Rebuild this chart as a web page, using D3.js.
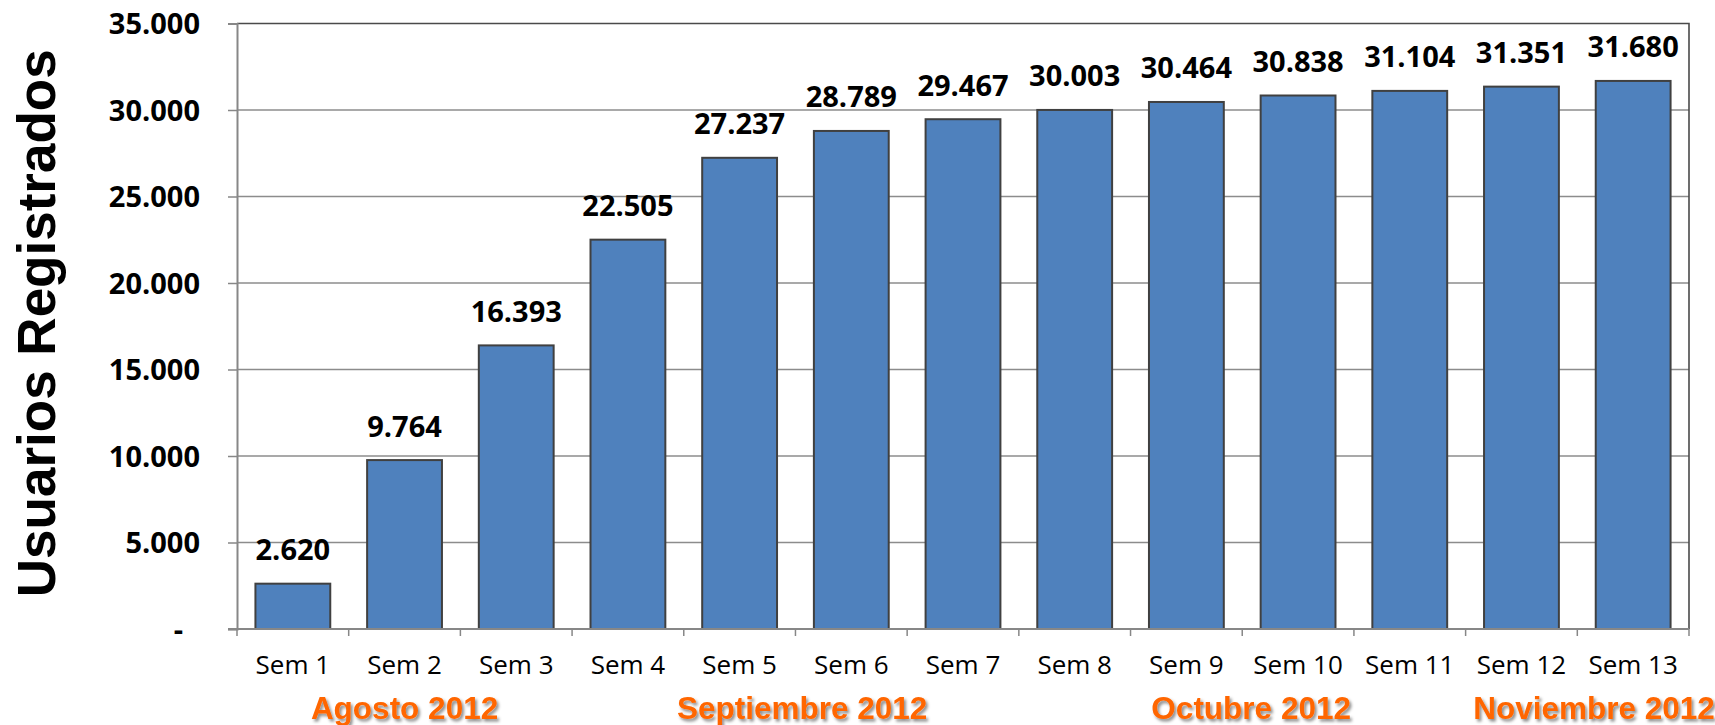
<!DOCTYPE html>
<html>
<head>
<meta charset="utf-8">
<script src="https://cdn.jsdelivr.net/npm/d3@7"></script>
<style>
  html, body { margin: 0; padding: 0; background: #fff; }
  svg { display: block; }
</style>
</head>
<body>
<svg id="chart" width="1715" height="725"></svg>
<script>
// Weekly registered users, Aug–Nov 2012
const weeks = ["Sem 1","Sem 2","Sem 3","Sem 4","Sem 5","Sem 6","Sem 7","Sem 8","Sem 9","Sem 10","Sem 11","Sem 12","Sem 13"];
const users = [2620, 9764, 16393, 22505, 27237, 28789, 29467, 30003, 30464, 30838, 31104, 31351, 31680];
const yTicks = [0, 5000, 10000, 15000, 20000, 25000, 30000, 35000];
// Month captions under the weeks; "at" is the week position (1-based) the caption is centred on
const months = ["Agosto 2012", "Septiembre 2012", "Octubre 2012", "Noviembre 2012"];
const monthAt = [2, 5.56, 9.58, 12.65];

const svg = d3.select("#chart");
const W = 1715, H = 725;
const m = { left: 237, right: 1689, top: 23.5, bottom: 629 };

const x = d3.scaleBand().domain(weeks).range([m.left, m.right])
  .paddingInner(0.33).paddingOuter(0.165);
const xEdge = d3.scaleLinear().domain([0, weeks.length]).range([m.left, m.right]);
const y = d3.scaleLinear().domain([0, 35000]).range([m.bottom, m.top]);

const fmt = v => v === 0 ? "-" : d3.format(",")(v).replace(/,/g, ".");

// shadow used by the month captions
const defs = svg.append("defs");
const f = defs.append("filter").attr("id", "shadow")
  .attr("x", "-10%").attr("y", "-30%").attr("width", "120%").attr("height", "160%");
f.append("feDropShadow").attr("dx", 2).attr("dy", 2.5).attr("stdDeviation", 1.6)
  .attr("flood-color", "#000").attr("flood-opacity", 0.45);

// horizontal gridlines
svg.append("g").selectAll("line").data(yTicks.filter(t => t > 0 && t < 35000)).join("line")
  .attr("x1", m.left).attr("x2", m.right)
  .attr("y1", d => y(d)).attr("y2", d => y(d))
  .attr("stroke", "#8c8c8c").attr("stroke-width", 1.5);

// plot area border (top and right)
svg.append("path")
  .attr("d", `M${m.left},${y(35000)}H${m.right}V${m.bottom}`)
  .attr("fill", "none").attr("stroke", "#4a4a4a").attr("stroke-width", 1.6);

// bars
svg.append("g").selectAll("rect").data(users).join("rect")
  .attr("x", (d, i) => x(weeks[i]))
  .attr("width", x.bandwidth())
  .attr("y", d => y(d))
  .attr("height", d => y(0) - y(d))
  .attr("fill", "#4F81BD")
  .attr("stroke", "#404040").attr("stroke-width", 2);

// value labels
svg.append("g").selectAll("text").data(users).join("text")
  .attr("x", (d, i) => x(weeks[i]) + x.bandwidth() / 2)
  .attr("y", d => y(d) - 23.5)
  .attr("text-anchor", "middle")
  .attr("font-family", "'Open Sans', sans-serif")
  .attr("font-weight", "bold")
  .attr("font-size", 29)
  .attr("fill", "#000")
  .text(fmt);

// y axis
const yAxis = svg.append("g").attr("transform", `translate(${m.left},0)`)
  .call(d3.axisLeft(y).tickValues(yTicks).tickFormat(fmt).tickSize(9).tickPadding(28));
yAxis.select(".domain").attr("stroke", "#878787").attr("stroke-width", 2);
yAxis.selectAll(".tick line").attr("stroke", "#878787").attr("stroke-width", 1.5);
yAxis.selectAll(".tick text")
  .attr("font-family", "'Open Sans', sans-serif")
  .attr("font-weight", "bold")
  .attr("font-size", 29)
  .attr("fill", "#000")
  .attr("dy", "0.36em")
  .attr("dx", d => d === 0 ? -17 : 0);

// x axis: line, boundary ticks and week labels
svg.append("line")
  .attr("x1", m.left - 9).attr("x2", m.right)
  .attr("y1", m.bottom).attr("y2", m.bottom)
  .attr("stroke", "#878787").attr("stroke-width", 2);
svg.append("g").selectAll("line").data(d3.range(weeks.length + 1)).join("line")
  .attr("x1", d => xEdge(d)).attr("x2", d => xEdge(d))
  .attr("y1", m.bottom).attr("y2", m.bottom + 7)
  .attr("stroke", "#878787").attr("stroke-width", 1.5);
svg.append("g").selectAll("text").data(weeks).join("text")
  .attr("x", d => x(d) + x.bandwidth() / 2)
  .attr("y", 674)
  .attr("text-anchor", "middle")
  .attr("font-family", "'Open Sans', sans-serif")
  .attr("font-size", 26)
  .attr("fill", "#000")
  .text(d => d);

// month captions
svg.append("g").selectAll("text").data(months).join("text")
  .attr("x", (d, i) => xEdge(monthAt[i] - 0.5))
  .attr("y", 719)
  .attr("text-anchor", "middle")
  .attr("font-family", "'Liberation Sans', Arial, sans-serif")
  .attr("font-weight", "bold")
  .attr("font-size", 31.5)
  .attr("fill", "#FF6600")
  .attr("filter", "url(#shadow)")
  .text(d => d);

// y axis title
svg.append("text")
  .attr("transform", `translate(55,${(m.top + m.bottom) / 2 - 3}) rotate(-90)`)
  .attr("text-anchor", "middle")
  .attr("font-family", "'Liberation Sans', Arial, sans-serif")
  .attr("font-weight", "bold")
  .attr("font-size", 53)
  .attr("fill", "#000")
  .text("Usuarios Registrados");
</script>
</body>
</html>
